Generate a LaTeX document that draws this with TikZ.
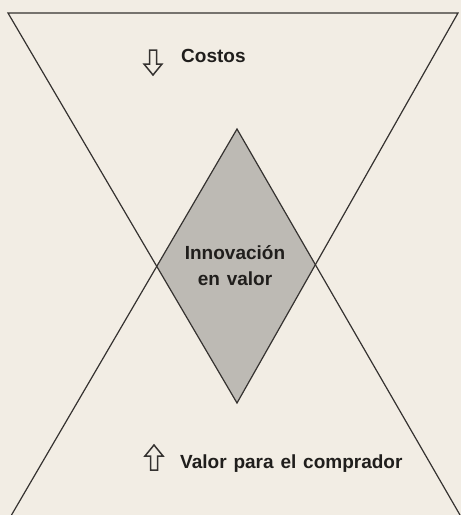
\documentclass[tikz,border=0pt]{standalone}
\usepackage{fontspec}
\setmainfont[WordSpace=1.3]{Liberation Sans}
\definecolor{paper}{HTML}{F2EDE4}
\definecolor{ink}{HTML}{353230}
\definecolor{diamondgray}{HTML}{BDBAB4}
\definecolor{txt}{HTML}{201E1C}
\begin{document}
\begin{tikzpicture}[x=1pt,y=-1pt,
  edge/.style={draw=ink, line width=1.2pt, line join=miter},
  lbl/.style={font=\bfseries\fontsize{19}{22}\selectfont, text=txt, inner sep=0pt},
  hollowarrow/.style={draw=ink, line width=1.5pt, line join=miter}]
\fill[paper] (0,0) rectangle (461,515);
\useasboundingbox (0,0) rectangle (461,515);
% corner points of the two triangles
\coordinate (TL) at (8,13);
\coordinate (TR) at (458,13);
\coordinate (TA) at (237,403);
\coordinate (UA) at (237,129);
\coordinate (UL) at (11.5,515);
\coordinate (UR) at (460,515);
% shaded overlap
\begin{scope}
  \clip (TL) -- (TR) -- (TA) -- cycle;
  \fill[diamondgray] (UA) -- (UL) -- (UR) -- cycle;
\end{scope}
% triangle edges
\draw[edge] (TA) -- (TL) -- (TR) -- cycle;
\draw[edge] (UL) -- (UA) -- (UR);
% hollow arrows
\draw[hollowarrow] (149.5,50) -- (156.5,50) -- (156.5,64) -- (162,64) -- (153,75)
  -- (144,64) -- (149.5,64) -- cycle;
\draw[hollowarrow] (150.5,470) -- (157.5,470) -- (157.5,456) -- (163,456) -- (154,445)
  -- (145,456) -- (150.5,456) -- cycle;
% labels
\node[lbl, anchor=base west] (costos) at (181,62) {Costos};
\node[lbl, anchor=base west] (valor) at (180,468) {Valor para el comprador};
\node[lbl, anchor=base] (inno1) at (235,259) {Innovación};
\node[lbl, anchor=base] (inno2) at (235,285) {en valor};
\end{tikzpicture}
\end{document}
